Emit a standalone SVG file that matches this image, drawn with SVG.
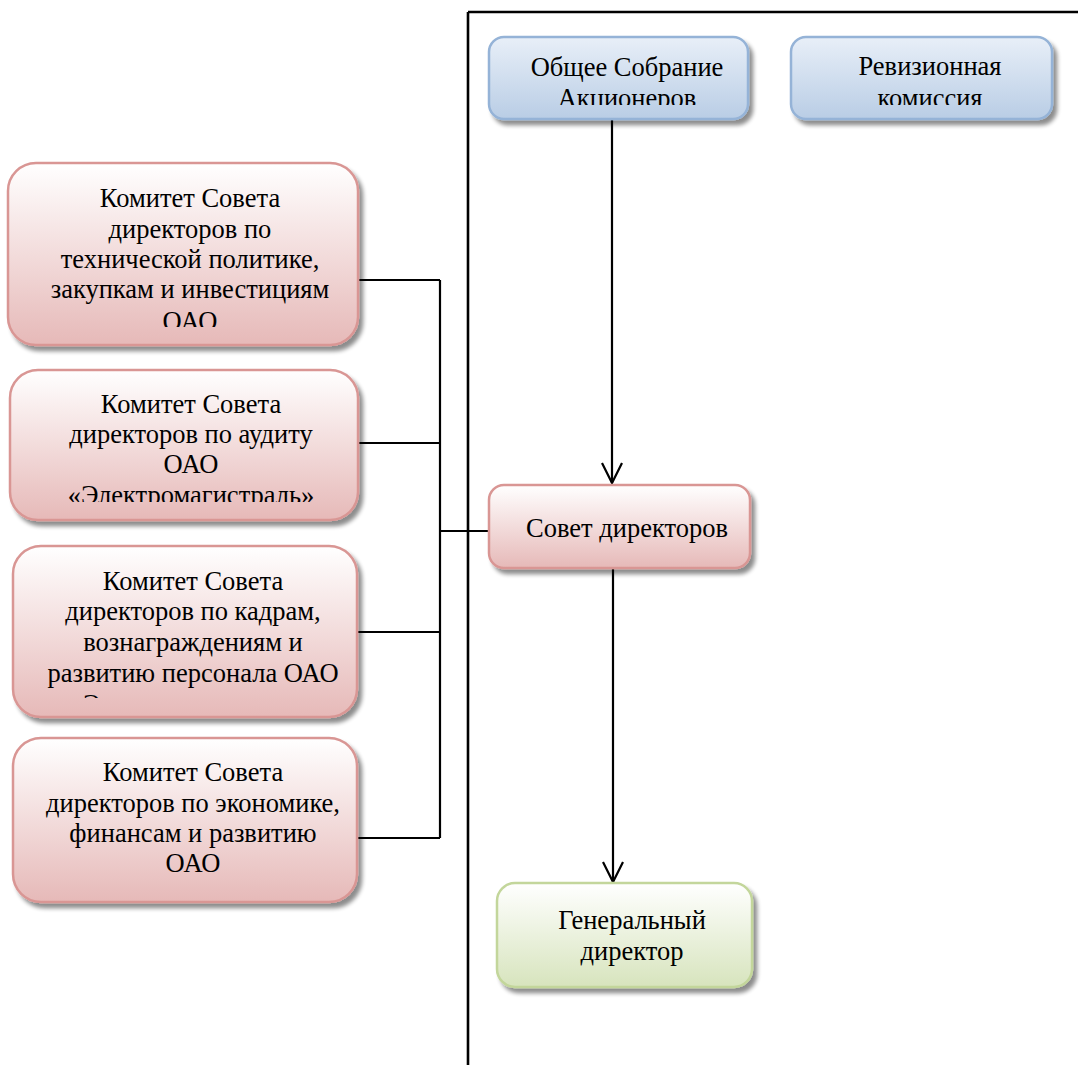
<svg xmlns="http://www.w3.org/2000/svg" width="1078" height="1065" viewBox="0 0 1078 1065">
<style>
  .t { font-family: "Liberation Serif", "Times New Roman", serif; font-size: 26.5px; fill: #000; text-anchor: middle; }
  .ln { stroke: #000; stroke-width: 2.2; fill: none; }
  .main { stroke: #000; stroke-width: 2.6; fill: none; }
  .blue { fill: url(#gBlue); stroke: #95b3d7; stroke-width: 2.5; filter: url(#sh); }
  .red { fill: url(#gRed); stroke: #d99694; stroke-width: 2.5; filter: url(#sh); }
  .green { fill: url(#gGreen); stroke: #c3d69b; stroke-width: 2.5; filter: url(#sh); }
</style>
<defs>
  <linearGradient id="gBlue" x1="0" y1="0" x2="0" y2="1">
    <stop offset="0" stop-color="#e8eff8"/>
    <stop offset="1" stop-color="#b9cde5"/>
  </linearGradient>
  <linearGradient id="gRed" x1="0" y1="0" x2="0" y2="1">
    <stop offset="0" stop-color="#ffffff"/>
    <stop offset="1" stop-color="#e6b9b8"/>
  </linearGradient>
  <linearGradient id="gGreen" x1="0" y1="0" x2="0" y2="1">
    <stop offset="0" stop-color="#ffffff"/>
    <stop offset="1" stop-color="#d7e4bd"/>
  </linearGradient>
  <filter id="sh" x="-10%" y="-10%" width="130%" height="140%">
    <feGaussianBlur in="SourceAlpha" stdDeviation="2"/>
    <feOffset dx="4" dy="5" result="o"/>
    <feComponentTransfer><feFuncA type="linear" slope="0.45"/></feComponentTransfer>
    <feMerge><feMergeNode/><feMergeNode in="SourceGraphic"/></feMerge>
  </filter>
  <marker id="arr" markerWidth="24" markerHeight="24" refX="21" refY="11" orient="auto" markerUnits="userSpaceOnUse" viewBox="0 0 24 24">
    <path d="M1 1 L21 11 L1 21" fill="none" stroke="#000" stroke-width="2.2"/>
  </marker>
  <clipPath id="cOb"><rect x="489" y="37" width="259" height="68"/></clipPath>
  <clipPath id="cRev"><rect x="791" y="37" width="261" height="68"/></clipPath>
  <clipPath id="cA"><rect x="8" y="163" width="350" height="164"/></clipPath>
  <clipPath id="cB"><rect x="10" y="370" width="348" height="132"/></clipPath>
  <clipPath id="cC"><rect x="13" y="546" width="344" height="152"/></clipPath>
</defs>
<rect width="1078" height="1065" fill="#fff"/>

<g id="connectors">
  <path class="main" d="M468 12 H1078"/>
  <path class="main" d="M468 12 V1065"/>
  <path class="ln" d="M440 280 V838"/>
  <path class="ln" d="M358 280 H440"/>
  <path class="ln" d="M358 443 H440"/>
  <path class="ln" d="M357 632 H440"/>
  <path class="ln" d="M357 838 H440"/>
  <path class="ln" d="M440 531 H489"/>
  <path class="ln" d="M612 119 V483" marker-end="url(#arr)"/>
  <path class="ln" d="M613 568 V882" marker-end="url(#arr)"/>
</g>

<g id="obshchee">
  <rect class="blue" x="489" y="37" width="259" height="82" rx="15"/>
  <g clip-path="url(#cOb)">
    <text class="t" x="627" y="76">Общее Собрание</text>
    <text class="t" x="627" y="107">Акционеров</text>
  </g>
</g>

<g id="revizionnaya">
  <rect class="blue" x="791" y="37" width="261" height="82" rx="15"/>
  <g clip-path="url(#cRev)">
    <text class="t" x="930" y="75">Ревизионная</text>
    <text class="t" x="930" y="107">комиссия</text>
  </g>
</g>

<g id="komitet-tekh">
  <rect class="red" x="8" y="163" width="350" height="182" rx="28"/>
  <g clip-path="url(#cA)">
    <text class="t" x="190" y="207">Комитет Совета</text>
    <text class="t" x="190" y="238">директоров по</text>
    <text class="t" x="190" y="268">технической политике,</text>
    <text class="t" x="190" y="298">закупкам и инвестициям</text>
    <text class="t" x="190" y="330">ОАО</text>
  </g>
</g>

<g id="komitet-audit">
  <rect class="red" x="10" y="370" width="348" height="150" rx="28"/>
  <g clip-path="url(#cB)">
    <text class="t" x="191" y="413">Комитет Совета</text>
    <text class="t" x="191" y="443">директоров по аудиту</text>
    <text class="t" x="191" y="473">ОАО</text>
    <text class="t" x="191" y="504">«Электромагистраль»</text>
  </g>
</g>

<g id="komitet-kadry">
  <rect class="red" x="13" y="546" width="344" height="171" rx="28"/>
  <g clip-path="url(#cC)">
    <text class="t" x="193" y="590">Комитет Совета</text>
    <text class="t" x="193" y="620">директоров по кадрам,</text>
    <text class="t" x="193" y="651">вознаграждениям и</text>
    <text class="t" x="193" y="682">развитию персонала ОАО</text>
    <text class="t" x="193" y="713">«Электромагистраль»</text>
  </g>
</g>

<g id="komitet-ekonomika">
  <rect class="red" x="13" y="738" width="344" height="164" rx="28"/>
  <text class="t" x="193" y="781">Комитет Совета</text>
  <text class="t" x="193" y="812">директоров по экономике,</text>
  <text class="t" x="193" y="842">финансам и развитию</text>
  <text class="t" x="193" y="872">ОАО</text>
</g>

<g id="sovet">
  <rect class="red" x="489" y="485" width="261" height="83" rx="15"/>
  <text class="t" x="627" y="537">Совет директоров</text>
</g>

<g id="gendir">
  <rect class="green" x="497" y="883" width="255" height="104" rx="18"/>
  <text class="t" x="632" y="929">Генеральный</text>
  <text class="t" x="632" y="960">директор</text>
</g>
</svg>
